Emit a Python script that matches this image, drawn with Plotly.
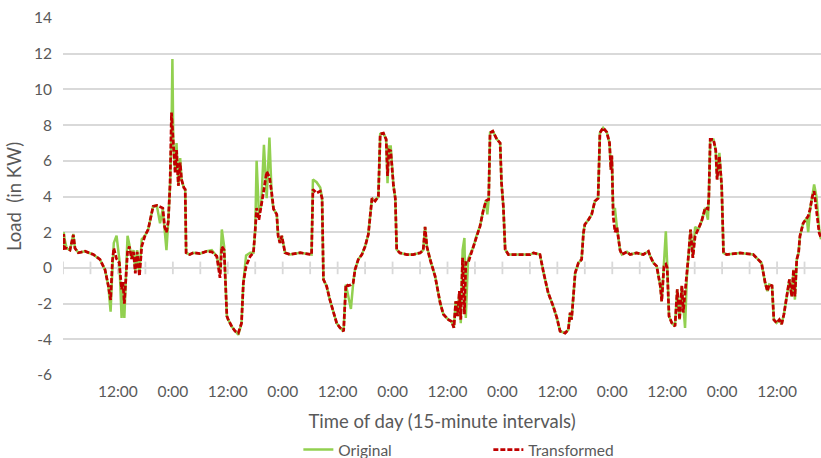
import plotly.graph_objects as go

# Time axis in hours since start of series (15-minute interval data at key points)
hours = [0.0, 0.15, 0.36, 0.8, 1.53, 2.26, 2.62, 3.35, 4.81, 6.63, 8.08, 9.18, 9.9, 10.4, 10.8,
         11.1, 11.7, 12.3, 12.8, 13.1, 13.4, 13.8, 14.1, 14.5, 15.0, 15.4, 15.8, 16.2, 16.7, 17.2,
         17.9, 18.6, 19.7, 20.5, 21.2, 21.8, 22.2, 22.6, 23.0, 23.4, 23.7, 23.9, 24.1, 24.5, 24.8,
         25.2, 25.6, 25.9, 26.4, 26.7, 26.9, 27.7, 28.5, 29.9, 31.4, 32.5, 33.6, 34.3, 34.7, 35.2,
         35.8, 36.1, 36.9, 37.6, 38.3, 39.0, 39.4, 40.0, 40.9, 41.6, 42.0, 42.3, 42.8, 43.3, 43.9,
         44.5, 45.1, 45.6, 46.0, 46.7, 47.0, 47.4, 47.8, 48.5, 49.6, 51.8, 54.0, 54.3, 54.6, 55.4,
         56.2, 56.6, 56.9, 57.6, 58.3, 59.1, 59.8, 60.5, 61.3, 61.8, 62.3, 62.9, 63.4, 63.8, 64.5,
         65.3, 66.0, 66.7, 67.1, 67.5, 68.2, 68.9, 69.3, 70.0, 70.6, 70.9, 71.2, 71.6, 72.2, 72.6,
         72.9, 73.6, 75.1, 76.5, 78.0, 78.7, 79.1, 79.5, 80.2, 81.3, 82.4, 83.1, 84.2, 84.9, 85.4,
         85.8, 86.2, 86.6, 86.9, 87.3, 87.7, 88.0, 88.5, 89.7, 90.3, 91.1, 91.8, 92.4, 92.7, 93.0,
         93.3, 93.9, 94.8, 95.5, 95.8, 96.2, 96.6, 97.3, 99.1, 102.1, 102.8, 104.2, 105.0, 106.0, 107.1,
         107.9, 108.6, 109.7, 110.4, 110.8, 111.1, 111.5, 111.9, 112.6, 113.3, 113.7, 114.0, 114.8, 115.5, 116.2,
         116.9, 117.3, 118.0, 118.8, 119.4, 119.7, 119.9, 120.2, 120.6, 121.0, 121.4, 121.7, 122.1, 123.2, 123.9,
         125.3, 126.8, 127.9, 128.3, 129.0, 129.7, 130.1, 130.5, 130.8, 131.3, 131.7, 132.0, 132.4, 133.0, 133.7,
         134.2, 134.7, 135.2, 135.5, 135.9, 136.3, 136.7, 137.1, 137.6, 138.1, 138.8, 139.5, 140.3, 140.9, 141.1,
         141.4, 142.1, 142.6, 142.9, 143.4, 143.9, 144.3, 145.0, 147.9, 150.8, 151.8, 152.6, 153.4, 153.9, 154.3,
         154.9, 155.3, 155.9, 156.5, 157.0, 157.5, 158.1, 158.7, 159.2, 159.6, 159.9, 160.3, 160.7, 161.0, 161.7,
         162.5, 162.8, 163.2, 163.7, 164.1, 164.6, 165.2, 165.6]

original = [1.0, 2.0, 1.6, 1.1, 1.0, 1.9, 1.1, 0.85, 0.93, 0.75, 0.47, -0.1, -1.0, -2.45, 0.0,
            1.4, 1.8, 0.5, -2.8, -1.0, -2.8, 0.5, 1.8, 1.3, 0.5, 1.0, -0.2, 1.0, -0.4, 1.6,
            1.8, 2.15, 3.45, 3.5, 2.5, 3.3, 2.3, 1.0, 2.6, 4.75, 7.5, 11.7, 7.0, 5.5, 7.0,
            4.6, 6.15, 4.95, 4.5, 4.4, 0.85, 0.75, 0.85, 0.8, 0.93, 1.0, 0.65, -0.3, 2.15, 1.2,
            -2.7, -2.9, -3.3, -3.55, -3.75, -3.1, -0.84, 0.7, 0.85, 0.85, 2.15, 6.0, 3.0, 3.5, 6.9,
            3.9, 7.3, 4.0, 3.3, 3.0, 1.8, 1.4, 1.8, 0.85, 0.75, 0.85, 0.75, 0.75, 4.95, 4.8,
            4.5, 3.9, -0.65, -1.03, -1.78, -2.5, -3.1, -3.35, -3.55, -0.93, -1.5, -2.3, -0.84, -0.1, 0.47,
            0.75, 1.2, 1.87, 2.9, 3.9, 3.75, 4.0, 7.5, 7.55, 7.2, 4.75, 6.8, 6.8, 4.6, 3.9,
            1.03, 0.84, 0.75, 0.75, 0.84, 1.0, 2.3, 1.2, 0.47, -0.47, -1.96, -2.6, -2.9, -3.0, -3.35,
            -1.87, -2.7, -1.3, -3.1, 1.0, 1.68, -2.8, 0.5, 1.2, 1.78, 2.33, 3.2, 3.75, 3.0, 3.83,
            7.57, 7.66, 7.2, 7.0, 4.77, 3.45, 1.03, 0.75, 0.75, 0.75, 0.84, 0.75, -0.28, -1.4, -2.15,
            -2.8, -3.55, -3.65, -3.46, -2.5, -2.9, -1.4, -0.28, 0.28, 0.47, 1.96, 2.43, 2.7, 3.0, 3.74,
            3.9, 7.57, 7.85, 7.6, 7.0, 5.5, 6.3, 3.3, 3.3, 2.3, 1.4, 1.0, 0.75, 0.9, 0.75,
            0.84, 0.75, 0.93, 0.65, 0.28, 0.1, -0.56, -1.03, -1.87, 0.5, 2.05, 0.2, -2.7, -3.08, -3.27,
            -1.2, -2.9, -1.0, -2.0, -3.36, -0.47, 0.84, 2.15, 0.56, 2.3, 2.15, 2.6, 3.36, 2.7, 4.0,
            7.2, 7.2, 6.6, 4.95, 6.45, 4.6, 0.84, 0.75, 0.84, 0.75, 0.47, 0.28, -0.84, -1.3, -0.93,
            -1.0, -2.9, -3.08, -2.9, -3.15, -2.6, -1.5, -0.65, -1.6, -0.1, -1.78, 0.47, 0.84, 1.78, 2.5,
            2.8, 2.0, 3.27, 4.0, 4.67, 4.0, 2.2, 1.6]

transformed = [1.0, 1.9, 1.1, 1.1, 1.0, 1.85, 1.1, 0.85, 0.93, 0.75, 0.47, -0.1, -1.0, -1.8, 0.4,
               1.1, 0.5, 0.3, -1.2, -0.8, -2.0, 0.1, 0.9, 1.2, 0.5, 0.9, -0.3, 0.9, -0.45, 1.2,
               1.8, 2.15, 3.45, 3.5, 3.4, 3.35, 2.3, 2.0, 2.6, 4.75, 8.7, 7.8, 7.4, 5.3, 6.6,
               4.6, 5.9, 4.95, 4.5, 4.4, 0.85, 0.75, 0.85, 0.8, 0.93, 0.9, 0.65, -0.56, 1.2, 1.0,
               -2.7, -2.9, -3.3, -3.55, -3.65, -3.1, -0.84, 0.1, 0.65, 0.85, 2.15, 3.35, 2.7, 3.4, 4.4,
               5.4, 5.1, 4.2, 3.3, 3.0, 1.8, 1.4, 1.8, 0.85, 0.75, 0.85, 0.75, 0.75, 4.4, 4.2,
               4.3, 3.9, -0.65, -1.03, -1.78, -2.5, -3.1, -3.35, -3.55, -0.93, -1.0, -0.95, -0.84, -0.1, 0.47,
               0.75, 1.2, 1.87, 2.9, 3.9, 3.75, 4.0, 7.5, 7.55, 7.2, 5.15, 6.6, 6.55, 4.6, 3.9,
               1.03, 0.84, 0.75, 0.75, 0.84, 1.0, 2.3, 1.2, 0.47, -0.47, -1.96, -2.6, -2.9, -3.0, -3.35,
               -1.87, -2.7, -1.3, -2.9, 0.56, -2.6, 0.3, 0.28, 1.2, 1.78, 2.33, 3.2, 3.75, 3.8, 3.83,
               7.57, 7.66, 7.2, 7.0, 4.77, 3.45, 1.03, 0.75, 0.75, 0.75, 0.84, 0.75, -0.28, -1.4, -2.15,
               -2.8, -3.55, -3.65, -3.46, -2.5, -2.9, -1.4, -0.28, 0.28, 0.47, 1.96, 2.43, 2.7, 3.0, 3.74,
               3.9, 7.57, 7.85, 7.6, 7.0, 5.5, 6.3, 2.9, 2.0, 2.3, 1.4, 1.0, 0.75, 0.9, 0.75,
               0.84, 0.75, 0.93, 0.65, 0.28, 0.1, -0.56, -1.03, -1.87, 0.09, 0.2, 0.0, -2.7, -3.08, -3.27,
               -1.2, -2.9, -1.0, -2.5, -1.5, -0.47, 0.84, 2.15, 0.56, 1.78, 2.15, 2.6, 3.36, 3.3, 4.0,
               7.2, 7.2, 6.6, 4.95, 6.26, 4.6, 0.84, 0.75, 0.84, 0.75, 0.47, 0.28, -0.84, -1.3, -0.93,
               -1.0, -2.9, -3.08, -2.9, -3.15, -2.6, -1.5, -0.65, -1.6, -0.1, -1.6, 0.47, 0.84, 1.78, 2.5,
               2.8, 2.9, 3.27, 4.0, 4.3, 3.3, 1.96, 1.7]

# Axis ticks and labels
minor_tick_hours = list(range(0, 166, 6))
label_hours = list(range(12, 166, 12))
label_text = ["12:00" if (h % 24) == 12 else "0:00" for h in label_hours]
y_ticks = list(range(-6, 15, 2))
y_tick_text = [str(v) for v in y_ticks]
x_range = [0, 165.6]
y_range = [-6, 14]
axis_crossing = 0

TXT = "#595959"
GRID = "#D9D9D9"
FONT = "Lato"

fig = go.Figure()
# tick marks on the horizontal axis line (which crosses at y = 0)
fig.add_trace(go.Scatter(x=minor_tick_hours, y=[axis_crossing] * len(minor_tick_hours),
                         mode="markers", showlegend=False, hoverinfo="skip",
                         marker=dict(symbol="line-ns", size=9, color=GRID,
                                     line=dict(color=GRID, width=1.8))))
fig.add_trace(go.Scatter(x=hours, y=original, mode="lines", name="Original",
                         line=dict(color="#92D050", width=2.5)))
fig.add_trace(go.Scatter(x=hours, y=transformed, mode="lines", name="Transformed",
                         line=dict(color="#C00000", width=2.75, dash="5px,2px")))

fig.update_layout(
    width=821, height=458,
    margin=dict(l=63, r=0, t=18, b=83, autoexpand=False),
    paper_bgcolor="white", plot_bgcolor="white",
    font=dict(family=FONT, color=TXT, size=15.5),
    xaxis=dict(range=x_range, tickmode="array", tickvals=label_hours, ticktext=label_text,
               showgrid=False, zeroline=False, showline=False, ticks="", automargin=False,
               ticklabelstandoff=5, tickfont=dict(size=15.5, color=TXT),
               title=dict(text="Time of day (15-minute intervals)", font=dict(size=18.5, color=TXT),
                          standoff=16)),
    yaxis=dict(range=y_range, tickmode="array", tickvals=y_ticks, ticktext=y_tick_text,
               showgrid=True, gridcolor=GRID, gridwidth=1.6,
               zeroline=True, zerolinecolor=GRID, zerolinewidth=1.8,
               showline=False, ticks="", ticklabelstandoff=10, automargin=False,
               tickfont=dict(size=15.5, color=TXT),
               title=dict(text="Load  (in KW)", font=dict(size=18.5, color=TXT), standoff=7)),
    legend=dict(orientation="h", x=0.3105, xanchor="left", y=-0.21, yanchor="middle",
                font=dict(size=15.5, color=TXT), entrywidth=145, entrywidthmode="pixels",
                bgcolor="rgba(0,0,0,0)"),
    showlegend=True,
)

fig.write_html("out.html")
